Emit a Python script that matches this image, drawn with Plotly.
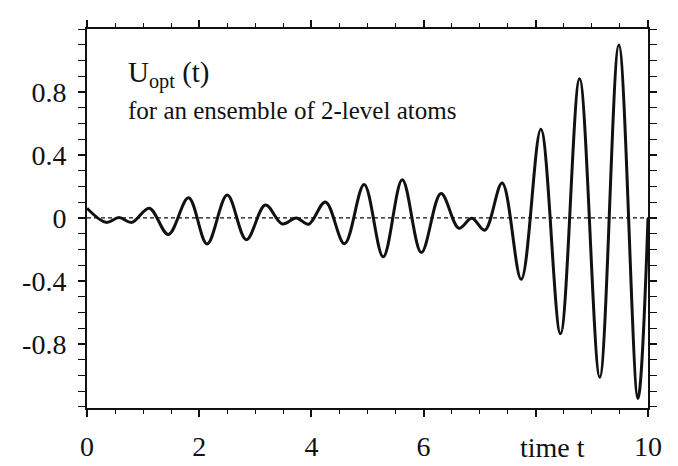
import plotly.graph_objects as go

t_vals = [0.00, 0.34, 0.57, 0.80, 1.11, 1.45, 1.81, 2.14, 2.50, 2.84,
          3.18, 3.48, 3.73, 3.95, 4.25, 4.59, 4.94, 5.28, 5.62, 5.96,
          6.31, 6.63, 6.86, 7.09, 7.40, 7.74, 8.09, 8.44, 8.78, 9.14,
          9.48, 9.82, 10.00]
u_vals = [0.062, -0.028, 0.003, -0.028, 0.062, -0.105, 0.128, -0.165, 0.145, -0.138,
          0.082, -0.038, 0.000, -0.040, 0.102, -0.164, 0.212, -0.247, 0.243, -0.219,
          0.156, -0.065, -0.002, -0.078, 0.222, -0.390, 0.563, -0.736, 0.884, -1.011,
          1.099, -1.147, 0.000]

# dashed reference line at U = 0
zero_t = [0, 10]
zero_u = [0, 0]

x_tickvals = [0, 2, 4, 6, 10]
x_ticktext = ["0", "2", "4", "6", "10"]
x_unlabeled_ticks = [8]
y_tickvals = [-0.8, -0.4, 0, 0.4, 0.8]
y_ticktext = ["-0.8", "-0.4", "0", "0.4", "0.8"]

FONT = "Liberation Serif, Times New Roman, serif"
INK = "#111111"

fig = go.Figure()
fig.add_trace(go.Scatter(
    x=zero_t, y=zero_u, mode="lines", xaxis="x2",
    line=dict(color=INK, width=1.2, dash="4px,3px"),
    hoverinfo="skip", showlegend=False,
))
fig.add_trace(go.Scatter(
    x=t_vals, y=u_vals, mode="lines",
    line=dict(color=INK, width=3, shape="spline", smoothing=1.0),
    hoverinfo="skip", showlegend=False,
))

fig.add_annotation(x=0.07, y=0.935, xref="paper", yref="paper",
                   xanchor="left", yanchor="top", showarrow=False,
                   text="U<sub>opt</sub> (t)",
                   font=dict(family=FONT, size=29, color=INK))
fig.add_annotation(x=0.07, y=0.825, xref="paper", yref="paper",
                   xanchor="left", yanchor="top", showarrow=False,
                   text="for an ensemble of 2-level atoms",
                   font=dict(family=FONT, size=25, color=INK))
fig.add_annotation(x=8.3, y=0.0, xref="x", yref="paper",
                   xanchor="center", yanchor="top", yshift=-22, showarrow=False,
                   text="time t",
                   font=dict(family=FONT, size=28, color=INK))

axis_common = dict(
    showline=True, linecolor=INK, linewidth=2, mirror="allticks",
    ticks="outside", ticklen=7, tickwidth=1.5, tickcolor=INK,
    showgrid=False, zeroline=False,
    tickfont=dict(family=FONT, size=28, color=INK),
)

fig.update_xaxes(range=[0, 10], tickmode="array", tickvals=x_tickvals, ticktext=x_ticktext,
                 minor=dict(dtick=0.5, ticks="outside", ticklen=4, tickwidth=1, tickcolor=INK),
                 ticklabelstandoff=5,
                 **axis_common)
fig.update_yaxes(range=[-1.207, 1.2], tickmode="array", tickvals=y_tickvals, ticktext=y_ticktext,
                 minor=dict(dtick=0.1, tick0=0, ticks="outside", ticklen=4, tickwidth=1, tickcolor=INK),
                 ticklabelstandoff=6,
                 **axis_common)

fig.update_layout(
    width=678, height=466,
    margin=dict(l=79, r=38, t=12, b=53),
    paper_bgcolor="white", plot_bgcolor="white",
    showlegend=False,
    xaxis2=dict(overlaying="x", anchor="y", side="bottom", range=[0, 10],
                tickmode="array", tickvals=x_unlabeled_ticks, showticklabels=False,
                ticks="outside", ticklen=7, tickwidth=1.5, tickcolor=INK,
                showline=True, linecolor=INK, linewidth=2, mirror="allticks",
                showgrid=False, zeroline=False),
)

fig.write_html("out.html")
